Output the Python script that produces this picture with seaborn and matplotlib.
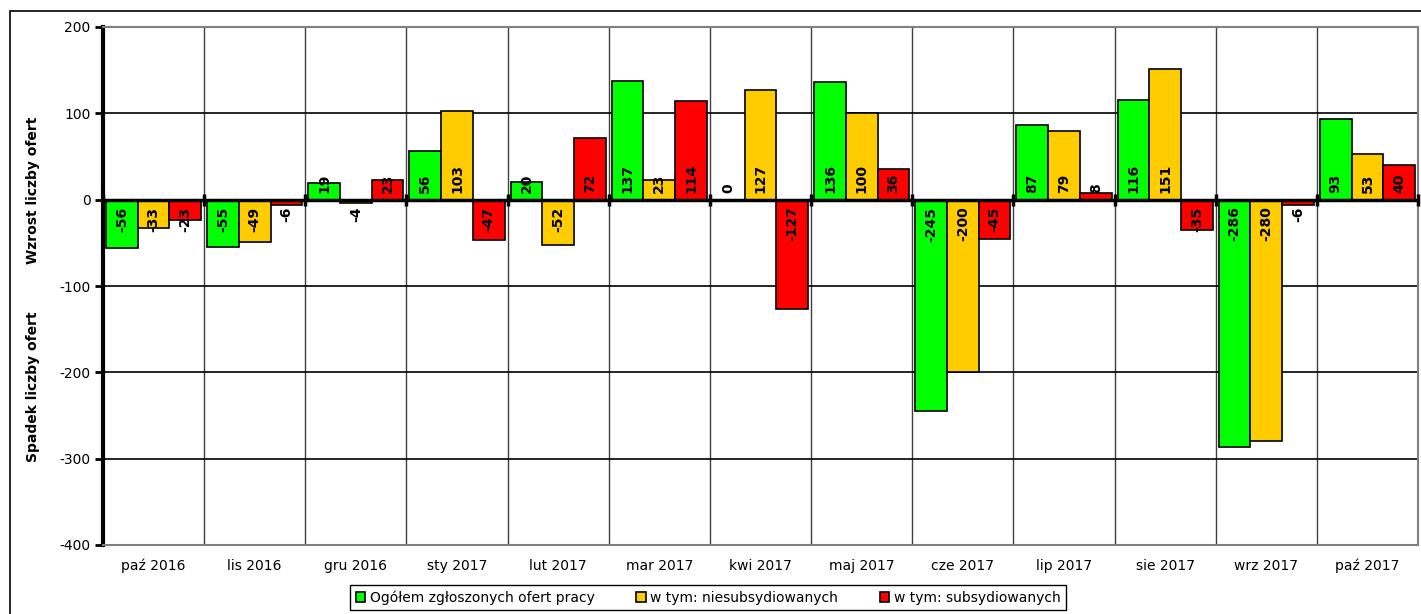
import numpy as np
import pandas as pd
import matplotlib
matplotlib.use("Agg")
import matplotlib.pyplot as plt
import seaborn as sns
from matplotlib.patches import Rectangle

# data
months = ['paź 2016', 'lis 2016', 'gru 2016', 'sty 2017', 'lut 2017', 'mar 2017', 'kwi 2017',
          'maj 2017', 'cze 2017', 'lip 2017', 'sie 2017', 'wrz 2017', 'paź 2017']
ogolem = [-56, -55, 19, 56, 20, 137, 0, 136, -245, 87, 116, -286, 93]
niesubs = [-33, -49, -4, 103, -52, 23, 127, 100, -200, 79, 151, -280, 53]
subs = [-23, -6, 23, -47, 72, 114, -127, 36, -45, 8, -35, -6, 40]
series_names = ['Ogółem zgłoszonych ofert pracy', 'w tym: niesubsydiowanych', 'w tym: subsydiowanych']
colors = ['#00FF00', '#FFCC00', '#FF0000']

df = pd.DataFrame({
    'month': months * 3,
    'value': ogolem + niesubs + subs,
    'series': np.repeat(series_names, len(months)),
})

sns.set_style("white")
plt.rcParams['font.family'] = ['DejaVu Sans']
plt.rcParams['axes.unicode_minus'] = False
plt.rcParams['text.color'] = 'black'
plt.rcParams['xtick.color'] = 'black'
plt.rcParams['ytick.color'] = 'black'

fig = plt.figure(figsize=(14.21, 6.14), dpi=100)
ax = fig.add_axes([103 / 1421, 69 / 614, 1315 / 1421, 518 / 614])

sns.barplot(data=df, x='month', y='value', hue='series', palette=colors, saturation=1,
            edgecolor='black', linewidth=1.2, width=0.94, ax=ax, zorder=3)

# value labels near zero line
for cont in ax.containers:
    for bar in cont:
        h = bar.get_height()
        x = bar.get_x() + bar.get_width() / 2
        if h >= 0:
            ax.annotate(f"{h:.0f}", (x, 0), xytext=(0, 5), textcoords='offset points',
                        rotation=90, ha='center', va='bottom', fontsize=10,
                        fontweight='bold', zorder=5)
        else:
            ax.annotate(f"{h:.0f}", (x, 0), xytext=(0, -5), textcoords='offset points',
                        rotation=90, ha='center', va='top', fontsize=10,
                        fontweight='bold', zorder=5)

ax.set_ylim(-400, 200)
ax.set_xlim(-0.5, len(months) - 0.5)
ax.set_yticks(np.arange(-400, 201, 100))
ax.set_xticks(np.arange(-0.5, len(months), 1), minor=True)
ax.grid(axis='y', which='major', color='black', lw=1.2, zorder=0)
ax.grid(axis='x', which='minor', color='#404040', lw=1.0, zorder=0)
ax.axhline(0, color='black', lw=2.5, zorder=4)
ax.plot(np.arange(-0.5, len(months), 1), np.zeros(len(months) + 1), ls='none',
        marker='|', color='black', ms=8, mew=2.5, zorder=4, clip_on=False)

ax.tick_params(axis='y', which='major', left=True, length=6, width=2, labelsize=10, pad=3)
ax.tick_params(axis='x', which='both', length=0, labelsize=10, pad=10)
ax.tick_params(axis='x', which='minor', bottom=False)
ax.set_xlabel('')
ax.set_ylabel('')

for s in ['top', 'right', 'bottom']:
    ax.spines[s].set_color('#808080')
    ax.spines[s].set_linewidth(1.5)
ax.spines['left'].set_color('black')
ax.spines['left'].set_linewidth(3)

fig.text(33 / 1421, 1 - 190 / 614, 'Wzrost liczby ofert', rotation=90, ha='center', va='center',
         fontsize=10, fontweight='bold')
fig.text(33 / 1421, 1 - 387 / 614, 'Spadek liczby ofert', rotation=90, ha='center', va='center',
         fontsize=10, fontweight='bold')

ax.get_legend().remove()
handles = [Rectangle((0, 0), 1, 1, facecolor=c, edgecolor='black', lw=1.2) for c in colors]
fig.legend(handles, series_names, loc='lower center', bbox_to_anchor=(708 / 1421, -0.005), ncol=3,
           frameon=True, fancybox=False, edgecolor='black', fontsize=10, handlelength=0.7,
           handleheight=0.7, handletextpad=0.3, columnspacing=3.0, borderpad=0.4,
           framealpha=1)

fig.add_artist(Rectangle((10 / 1421, -0.01), 1.0, 1 - 11 / 614 + 0.01, transform=fig.transFigure,
                         fill=False, edgecolor='black', lw=1.2))

fig.savefig('out.png', dpi=100)
